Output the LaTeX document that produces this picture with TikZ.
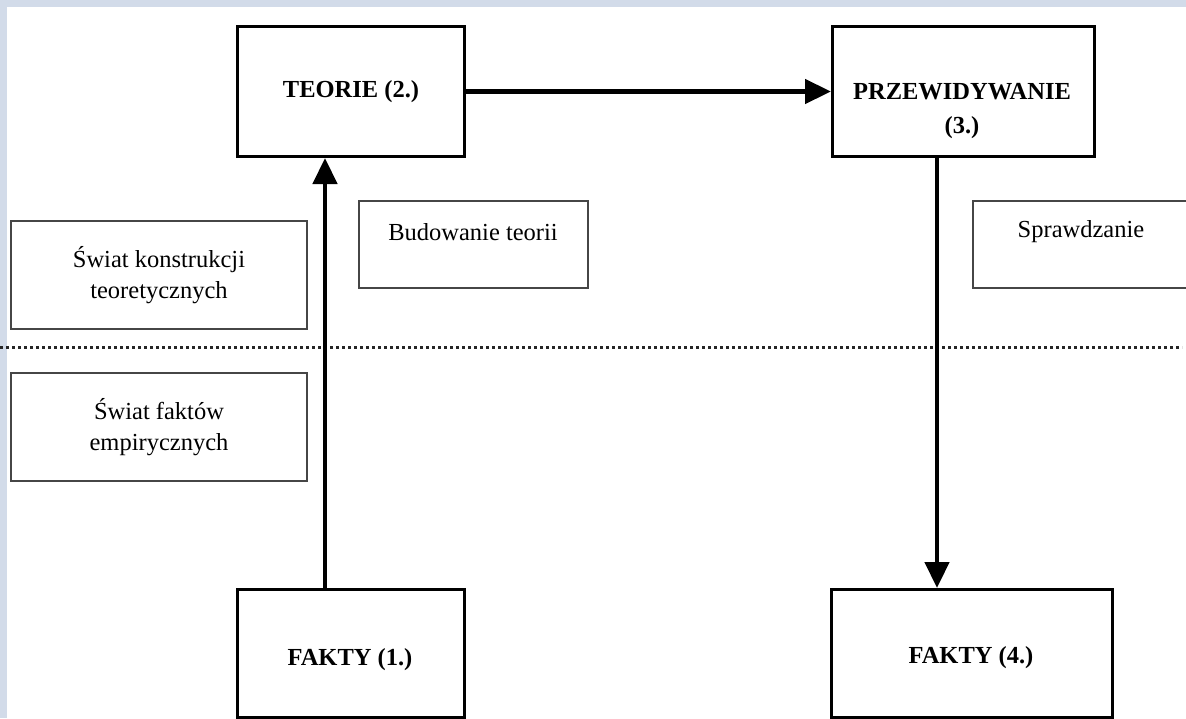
\documentclass[tikz,border=0pt]{standalone}
\usepackage{fontspec}
\setmainfont{Liberation Serif}
\usetikzlibrary{arrows.meta}
\definecolor{bgblue}{RGB}{210,219,233}
\definecolor{sidegray}{RGB}{70,70,70}
\begin{document}
\begin{tikzpicture}[x=1pt,y=-1pt,
  mainbox/.style={draw=black, line width=3pt, fill=white, inner sep=0pt, anchor=north west},
  sidebox/.style={draw=sidegray, line width=2pt, fill=white, inner sep=0pt, anchor=north west},
  boldtxt/.style={font=\fontsize{24.5}{34}\selectfont\bfseries, align=center, inner sep=0pt},
  regtxt/.style={font=\fontsize{24.5}{31}\selectfont, align=center, inner sep=0pt},
  flow/.style={line width=4.5pt, -{Triangle[length=26pt,width=24pt]}},
  dotline/.style={line width=3pt, dash pattern=on 3pt off 3pt, black!85}
]
\useasboundingbox (0,0) rectangle (1186,718);
\fill[bgblue] (0,0) rectangle (1186,718);
\fill[white] (7,7) rectangle (1186,718);

% main boxes
\node[mainbox, minimum width=227pt, minimum height=130pt, boldtxt] (teorie) at (236,25) {TEORIE (2.)};
\node[mainbox, minimum width=262pt, minimum height=130pt] (przew) at (831,25) {};
\node[boldtxt] (przewt) at (962,111) {PRZEWIDYWANIE\\(3.)};
\node[mainbox, minimum width=227pt, minimum height=128pt] (fakty1) at (236,588) {};
\node[boldtxt] (fakty1t) at (350,660) {FAKTY (1.)};
\node[mainbox, minimum width=281pt, minimum height=128pt] (fakty4) at (830,588) {};
\node[boldtxt] (fakty4t) at (971,658) {FAKTY (4.)};

% side boxes
\node[sidebox, minimum width=296pt, minimum height=108pt, regtxt] (konstr) at (10,220) {Świat konstrukcji\\teoretycznych};
\node[sidebox, minimum width=296pt, minimum height=108pt, regtxt] (fakt) at (10,372) {Świat faktów\\empirycznych};
\node[sidebox, minimum width=229pt, minimum height=87pt] (budow) at (358,200) {};
\node[regtxt] (budowt) at (473,232) {Budowanie teorii};
\node[sidebox, minimum width=220pt, minimum height=87pt] (spraw) at (972,200) {};
\node[regtxt] (sprawt) at (1081,232) {Sprawdzanie};

% dotted divider
\draw[dotline] (0,347) -- (1182,347);

% arrows
\draw[flow] (teorie) -- (przew);
\draw[flow] ([xshift=89pt]fakty1.north west) -- ([xshift=89pt]teorie.south west);
\draw[flow] ([xshift=106pt]przew.south west) -- ([xshift=107pt]fakty4.north west);
\end{tikzpicture}
\end{document}
